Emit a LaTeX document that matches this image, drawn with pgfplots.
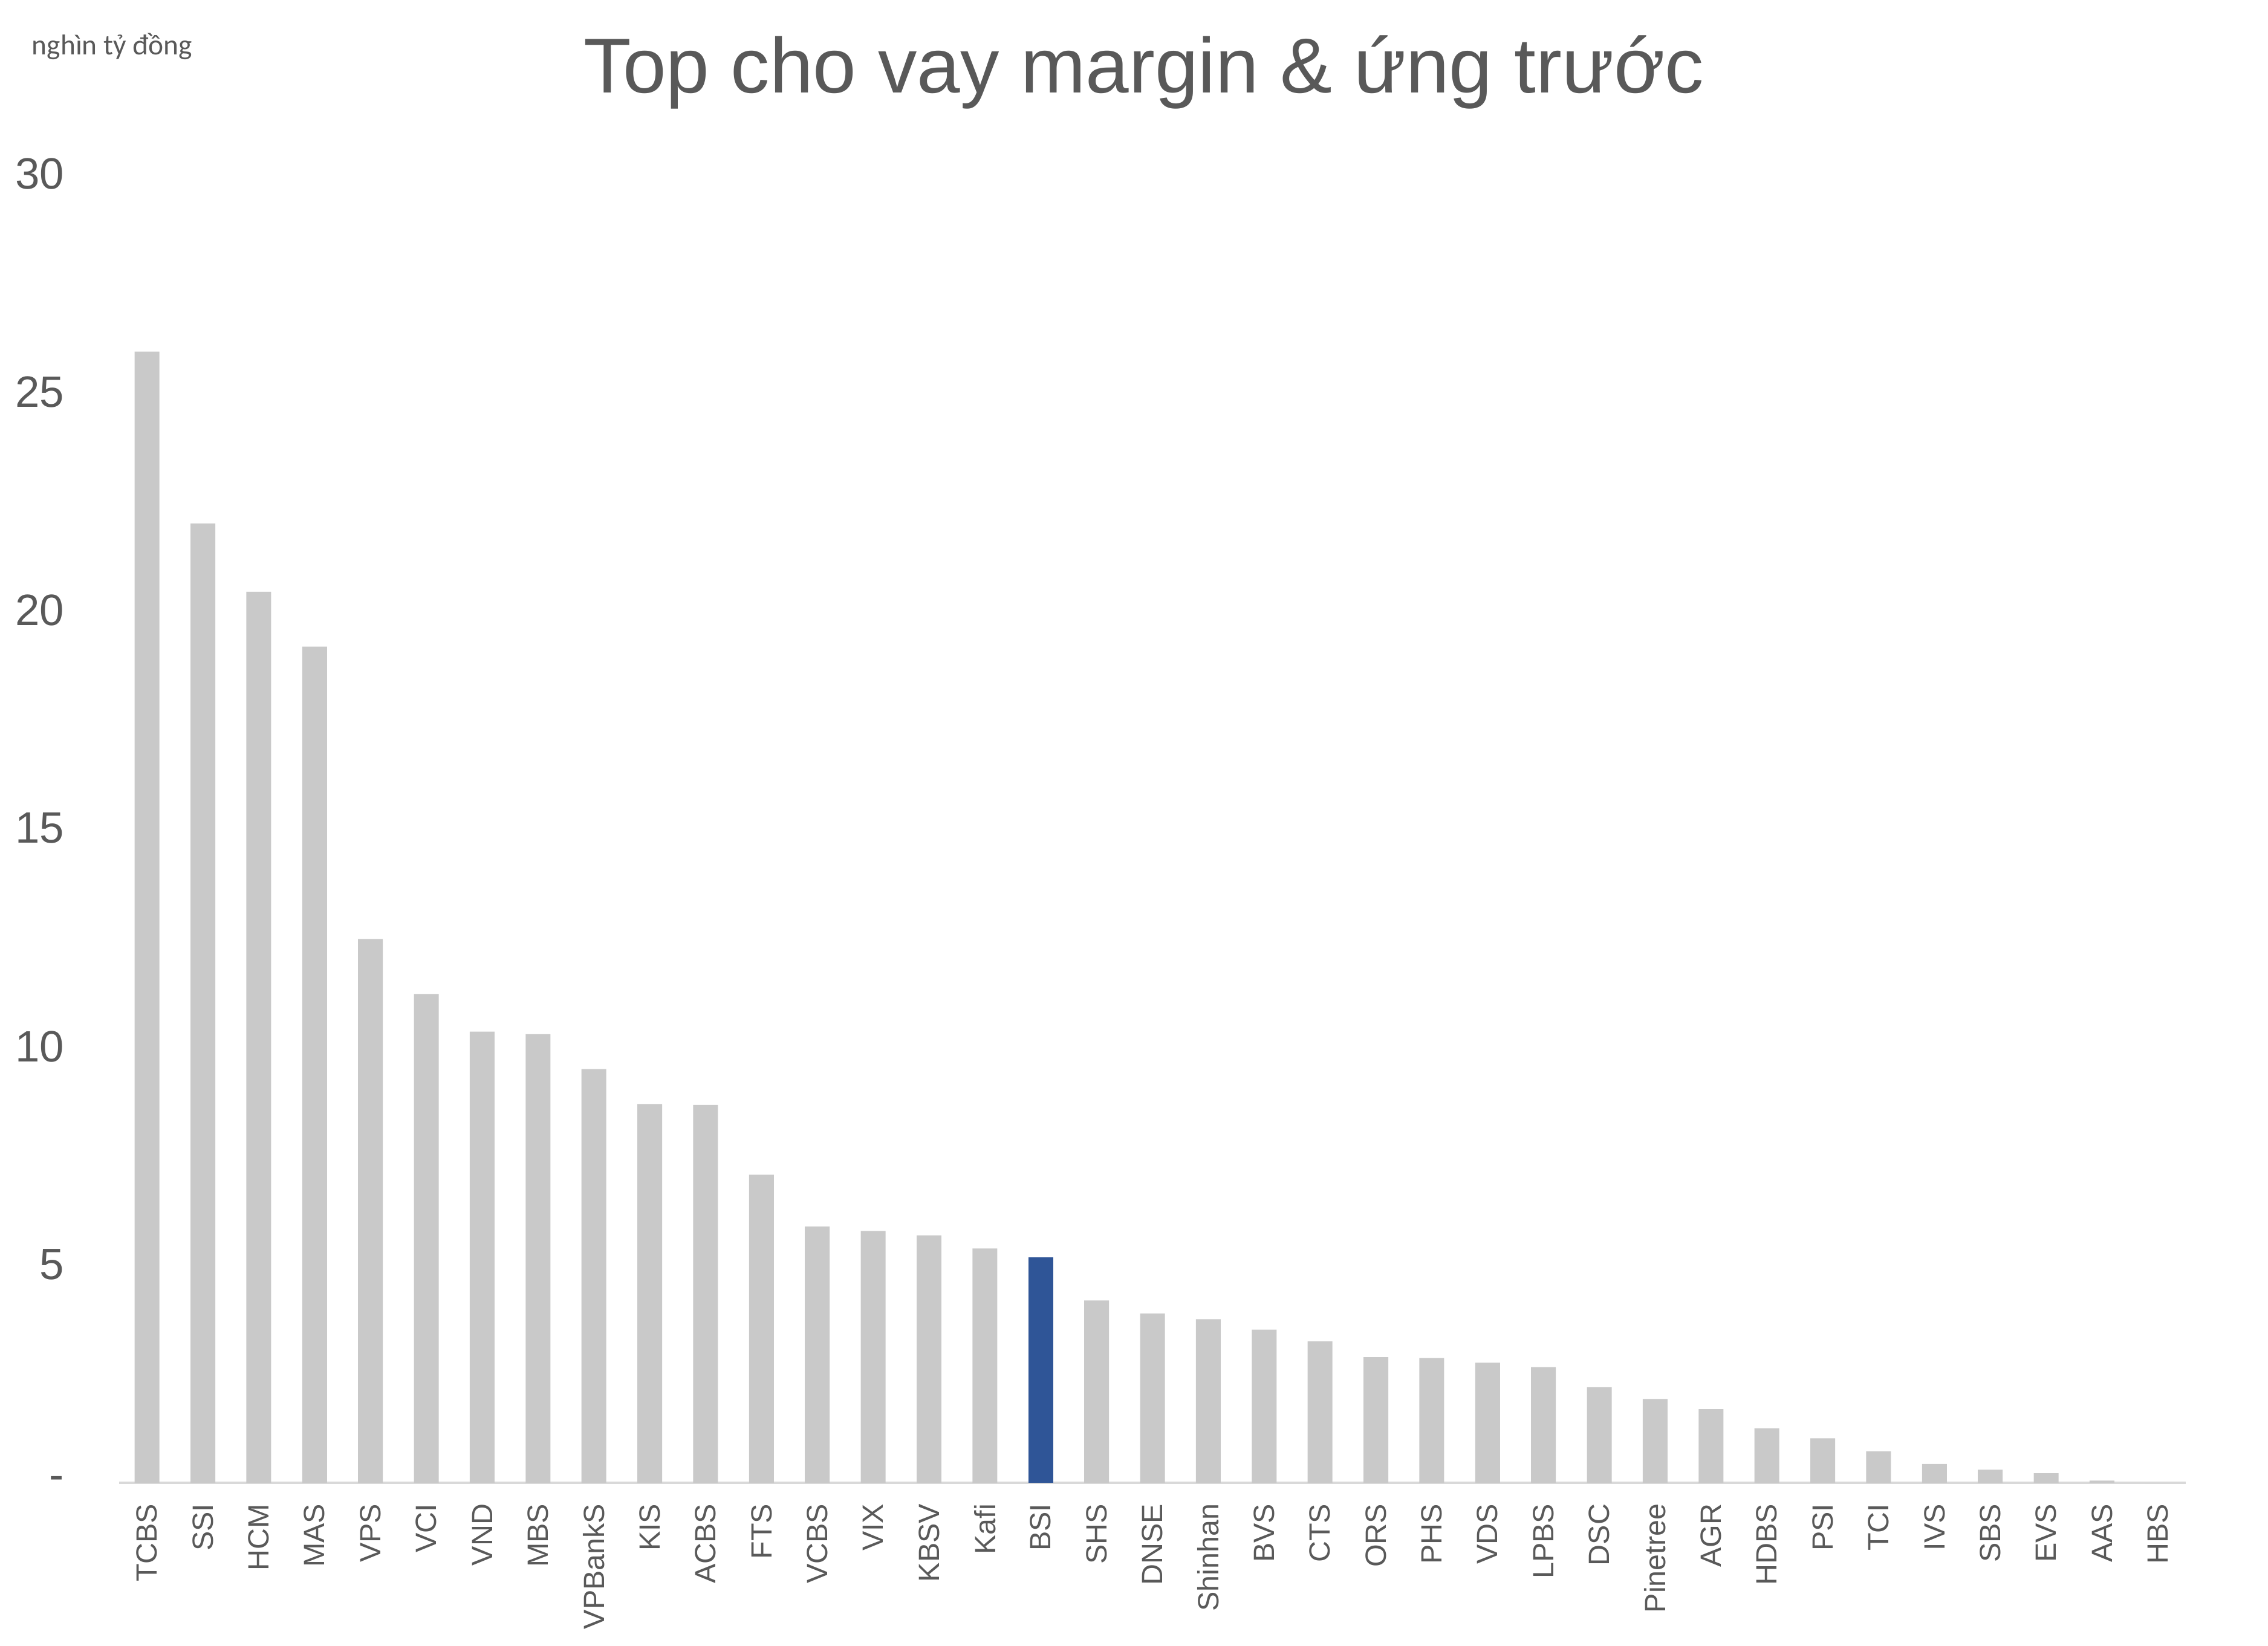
\documentclass[border=0pt]{standalone}
\usepackage{pgfplots}
\pgfplotsset{compat=1.18}
\usepackage{fontspec}
\setmainfont{Liberation Sans}
\newfontfamily\calibri{Carlito}

\definecolor{txt}{HTML}{595959}
\definecolor{bargray}{HTML}{C9C9C9}
\definecolor{barblue}{HTML}{2F5597}
\definecolor{axisgray}{HTML}{D9D9D9}

\begin{document}
\begin{tikzpicture}
\path[use as bounding box] (-40.70pt,-55.58pt) rectangle (734.30pt,506.82pt);
\begin{axis}[
    scale only axis,
    width=706.2pt, height=447.5pt,
    xmin=-0.5, xmax=36.5,
    ymin=0, ymax=30,
    axis lines*=left,
    x axis line style={draw=axisgray, line width=0.75pt, -},
    y axis line style={draw=none},
    major tick length=0pt,
    ytick={0,5,10,15,20,25,30},
    yticklabels={-,5,10,15,20,25,30},
    yticklabel style={font=\fontsize{15}{18}\selectfont, text=txt, inner sep=0pt, xshift=-18.6pt},
    xtick={0,...,36},
    xticklabels={TCBS,SSI,HCM,MAS,VPS,VCI,VND,MBS,VPBankS,KIS,ACBS,FTS,VCBS,VIX,KBSV,Kafi,BSI,SHS,DNSE,Shinhan,BVS,CTS,ORS,PHS,VDS,LPBS,DSC,Pinetree,AGR,HDBS,PSI,TCI,IVS,SBS,EVS,AAS,HBS},
    xticklabel style={font=\fontsize{10}{12}\selectfont, text=txt, rotate=90, anchor=east, inner sep=0pt},
    xticklabel shift=7pt,
    /pgf/number format/assume math mode=true,
    ybar, bar width=8.47pt,
    clip=false,
]
% all houses except BSI
\addplot[fill=bargray, draw=none, bar shift=0pt] coordinates {
    (0,25.92) (1,21.98) (2,20.42) (3,19.16) (4,12.46) (5,11.2) (6,10.34)
    (7,10.28) (8,9.48) (9,8.68) (10,8.66) (11,7.06) (12,5.87) (13,5.77)
    (14,5.67) (15,5.37) (17,4.18) (18,3.88) (19,3.75) (20,3.51)
    (21,3.24) (22,2.88) (23,2.86) (24,2.75) (25,2.65) (26,2.19) (27,1.92)
    (28,1.69) (29,1.25) (30,1.02) (31,0.72) (32,0.43) (33,0.30) (34,0.22)
    (35,0.05) (36,0)
};
% BSI highlighted
\addplot[fill=barblue, draw=none, bar shift=0pt] coordinates {(16,5.17)};
\end{axis}
\node[text=txt, font=\fontsize{26.6}{32}\selectfont, anchor=base, inner sep=0pt] at (350.2pt,475pt) {Top cho vay margin \& ứng trước};
\node[text=txt, font=\calibri\fontsize{9.8}{12}\selectfont, anchor=base west, inner sep=0pt] at (-29.96pt,488.2pt) {nghìn tỷ đồng};
\end{tikzpicture}
\end{document}
